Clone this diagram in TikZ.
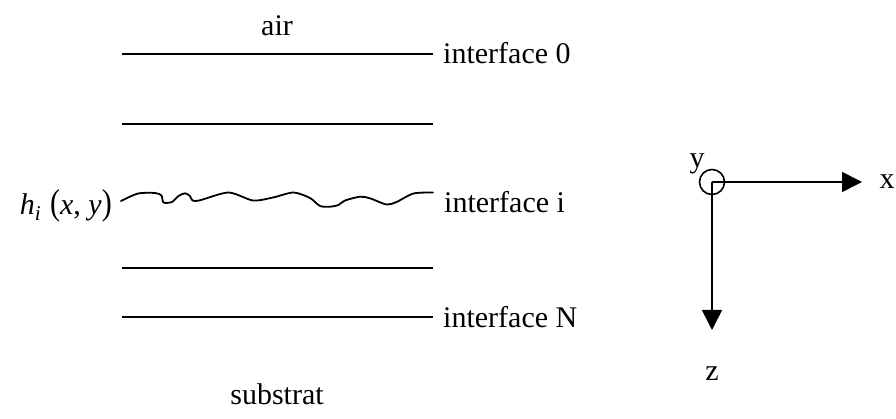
\documentclass[tikz,border=0pt]{standalone}
\usepackage{fontspec}
\usepackage{graphicx}
\setmainfont{Liberation Serif}
\usetikzlibrary{arrows.meta}
\begin{document}
\begin{tikzpicture}[x=1pt,y=-1pt,
  layer/.style={line width=2pt},
  rough/.style={line width=1.8pt, line join=round, line cap=round},
  axis/.style={line width=1.6pt, -{Triangle[length=20pt,width=20pt]}},
  lbl/.style={inner sep=0pt, font=\fontsize{30}{36}\selectfont},
]
\useasboundingbox (0,0) rectangle (896,419);
% layer lines
\coordinate (l0a) at (122,54);  \coordinate (l0b) at (433,54);
\coordinate (l1a) at (122,124); \coordinate (l1b) at (433,124);
\coordinate (l3a) at (122,268); \coordinate (l3b) at (433,268);
\coordinate (l4a) at (122,317); \coordinate (l4b) at (433,317);
\draw[layer] (l0a) -- (l0b);
\draw[layer] (l1a) -- (l1b);
\draw[layer] (l3a) -- (l3b);
\draw[layer] (l4a) -- (l4b);
% rough interface
\begin{scope}[yshift=4pt]
\draw[rough] plot[smooth, tension=0.45] coordinates {
 (121,205) (138,197.5) (155,197) (161.5,199.5) (163.5,206.5) (172,206)
 (178.5,200) (185,197.3) (190,200) (192.5,204.5) (200,204.3) (228.5,196.5)
 (253,204.5) (273,201.5) (293.5,196.5) (310,202) (320,210) (330,210.7)
 (338.5,209) (345,204.5) (360,200.7) (370,202.3) (386.5,208.5) (396.5,206)
 (413.5,197.5) (433,196.5)};
\end{scope}
% labels
\node[lbl, anchor=base] (air) at (277,36) {air};
\node[lbl, anchor=base west] (if0) at (443,64) {interface 0};
\node[lbl, anchor=base west] (ifi) at (444,213) {interface i};
\node[lbl, anchor=base west] (ifN) at (443,327) {interface N};
\node[lbl, anchor=base] (sub) at (277,404) {substrat};
\node[lbl, anchor=base east] (h) at (112,215)
  {{\itshape h}\textsubscript{\itshape i}\hspace{9pt}\scalebox{1}[1.2]{(}{\itshape x}, {\itshape y}\scalebox{1}[1.2]{)}};
% axes
\node[draw, circle, line width=1.6pt, minimum size=25pt, inner sep=0pt] (o) at (712,182) {};
\coordinate (xe) at (862,182);
\coordinate (ze) at (712,330);
\draw[axis] (o.center) -- (xe);
\draw[axis] (o.center) -- (ze);
\node[lbl, anchor=base] (ylab) at (697,168) {y};
\node[lbl, anchor=base] (xlab) at (887,189) {x};
\node[lbl, anchor=base] (zlab) at (712,380) {z};
\end{tikzpicture}
\end{document}
